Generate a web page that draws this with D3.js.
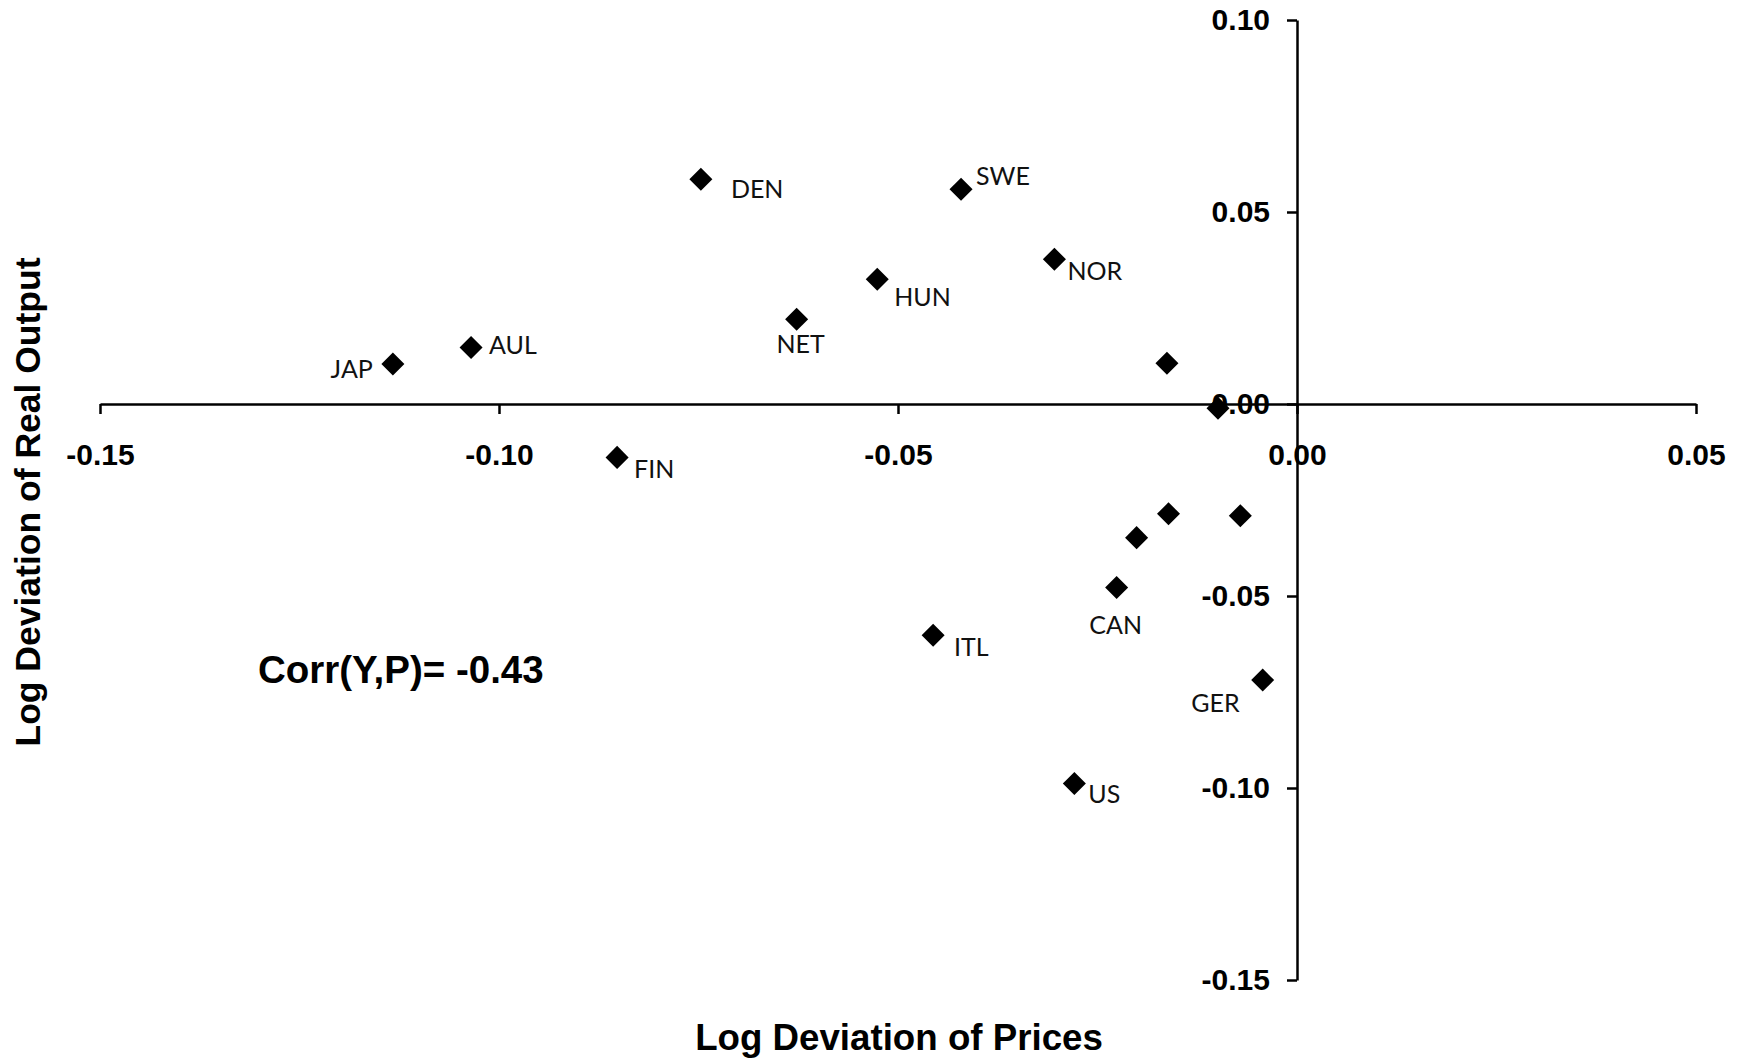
<!DOCTYPE html>
<html>
<head>
<meta charset="utf-8">
<script src="https://cdn.jsdelivr.net/npm/d3@7"></script>
<style>
  html, body { margin: 0; padding: 0; background: #ffffff; }
  svg { display: block; }
</style>
</head>
<body>
<svg id="chart" width="1744" height="1062"></svg>
<script>
// ---- data ----
const countries = ["JAP","AUL","FIN","DEN","NET","HUN","ITL","SWE","NOR","US","CAN","","","","","","GER"];
const prices    = [-0.1133,-0.1035,-0.0852,-0.0747,-0.0627,-0.0526,-0.0456,-0.0421,-0.0304,-0.0279,-0.0226,-0.0201,-0.0163,-0.0161,-0.0099,-0.0071,-0.0043];
const output    = [0.0104,0.0147,-0.0139,0.0585,0.0221,0.0325,-0.0602,0.0559,0.0377,-0.0988,-0.0478,-0.0348,0.0106,-0.0286,-0.0011,-0.0291,-0.0719];
const xTicks = [-0.15,-0.10,-0.05,0.00,0.05];
const yTicks = [-0.15,-0.10,-0.05,0.00,0.05,0.10];
const xTitle = "Log Deviation of Prices";
const yTitle = "Log Deviation of Real Output";
const corrText = "Corr(Y,P)= -0.43";

// label placement (pixel offsets from the marker, anchor)
const labelPlacement = {
  JAP: [-20, 14, "end"],
  AUL: [18, 6, "start"],
  FIN: [17, 21, "start"],
  DEN: [30, 19, "start"],
  NET: [4, 34, "middle"],
  HUN: [17, 27, "start"],
  ITL: [21, 21, "start"],
  SWE: [15, -4, "start"],
  NOR: [13, 21, "start"],
  US:  [14, 20, "start"],
  CAN: [-1, 46, "middle"],
  GER: [-23, 32, "end"]
};

// ---- chart ----
const svg = d3.select("#chart");
const x = d3.scaleLinear().domain([-0.15, 0.05]).range([100, 1696]);
const y = d3.scaleLinear().domain([-0.15, 0.10]).range([980, 20]);
const fmt = d => d.toFixed(2);

const points = countries.map((c, i) => ({ name: c, px: prices[i], py: output[i] }));

// x axis (crossing at y = 0)
const gx = svg.append("g")
  .attr("transform", `translate(0,${y(0)})`)
  .call(d3.axisBottom(x).tickValues(xTicks).tickFormat(fmt).tickSize(10).tickSizeOuter(0).tickPadding(30));

// y axis (crossing at x = 0)
const gy = svg.append("g")
  .attr("transform", `translate(${x(0)},0)`)
  .call(d3.axisLeft(y).tickValues(yTicks).tickFormat(fmt).tickSize(10).tickSizeOuter(0).tickPadding(17));

[gx, gy].forEach(g => {
  g.select(".domain").attr("stroke", "#000").attr("stroke-width", 2.5);
  g.selectAll(".tick line").attr("stroke", "#000").attr("stroke-width", 2.5);
  g.selectAll(".tick text")
    .attr("fill", "#000")
    .style("font-family", "'Liberation Sans', Arial, sans-serif")
    .style("font-weight", "bold")
    .style("font-size", "30px");
});

// markers
const diamond = d3.symbol().type(d3.symbolSquare).size(265);
svg.append("g").selectAll("path")
  .data(points)
  .join("path")
  .attr("d", diamond)
  .attr("transform", d => `translate(${x(d.px)},${y(d.py)}) rotate(45)`)
  .attr("fill", "#000");

// point labels
svg.append("g").selectAll("text")
  .data(points.filter(d => d.name && labelPlacement[d.name]))
  .join("text")
  .attr("x", d => x(d.px) + labelPlacement[d.name][0])
  .attr("y", d => y(d.py) + labelPlacement[d.name][1])
  .attr("text-anchor", d => labelPlacement[d.name][2])
  .style("font-family", "Lato, 'Open Sans', sans-serif")
  .style("font-size", "25px")
  .attr("fill", "#111")
  .text(d => d.name);

// axis titles
svg.append("text")
  .attr("x", 899).attr("y", 1050)
  .attr("text-anchor", "middle")
  .style("font-family", "'Liberation Sans', Arial, sans-serif")
  .style("font-weight", "bold")
  .style("font-size", "36.7px")
  .text(xTitle);

svg.append("text")
  .attr("transform", "translate(40,502) rotate(-90)")
  .attr("text-anchor", "middle")
  .style("font-family", "'Liberation Sans', Arial, sans-serif")
  .style("font-weight", "bold")
  .style("font-size", "35.5px")
  .text(yTitle);

svg.append("text")
  .attr("x", 258).attr("y", 683)
  .style("font-family", "'Liberation Sans', Arial, sans-serif")
  .style("font-weight", "bold")
  .style("font-size", "38.5px")
  .text(corrText);
</script>
</body>
</html>
